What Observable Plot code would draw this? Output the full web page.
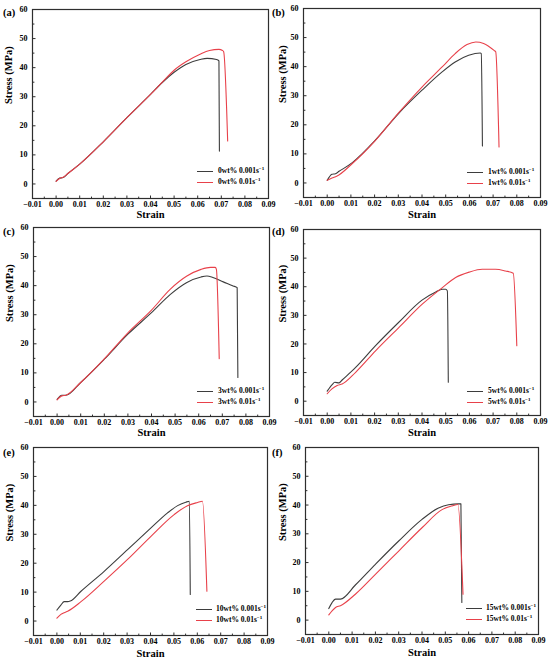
<!DOCTYPE html>
<html><head><meta charset="utf-8">
<script src="https://cdn.jsdelivr.net/npm/d3@7"></script>
<script src="https://cdn.jsdelivr.net/npm/@observablehq/plot@0.6"></script>
<style>
body{margin:0;background:#fff;}
#wrap{position:relative;width:550px;height:666px;overflow:hidden;font-family:"Liberation Serif","Times New Roman",serif;font-weight:bold;color:#000;}
.panel{position:absolute;width:275px;height:222px;}
.panel svg{position:absolute;left:0;top:0;}
.tag{position:absolute;font-size:10.5px;font-weight:bold;line-height:1;}
.leg{position:absolute;font-size:7.5px;white-space:nowrap;line-height:1;}
.leg sup{font-size:5px;vertical-align:3px;line-height:0;}
.ln{position:absolute;height:0;border-top:1.2px solid;}
</style></head><body><div id="wrap"></div>
<script>
// ---- data ----
const xTicks = [-0.01, 0, 0.01, 0.02, 0.03, 0.04, 0.05, 0.06, 0.07, 0.08, 0.09];
const yTicks = [0, 10, 20, 30, 40, 50, 60];
const panelTags = ["(a)", "(b)", "(c)", "(d)", "(e)", "(f)"];
const contents = ["0wt%", "1wt%", "3wt%", "5wt%", "10wt%", "15wt%"];
const rates = ["0.001", "0.01"];

const a_slow = [[0,1.0],[0.0015,2.0],[0.003,2.2],[0.005,3.6],[0.01,6.8],[0.02,14.5],[0.03,22.8],[0.04,30.8],[0.045,34.9],[0.05,38.4],[0.055,41.1],[0.061,42.8],[0.064,43.2],[0.068,42.8],[0.069,42.3],[0.0692,11.3]];
const a_fast = [[0,0.9],[0.0015,1.9],[0.003,2.3],[0.005,3.6],[0.01,6.8],[0.02,14.5],[0.03,22.8],[0.04,30.8],[0.045,35.0],[0.05,39.1],[0.055,42.0],[0.061,44.6],[0.065,45.9],[0.069,46.3],[0.0705,45.9],[0.071,45.5],[0.0727,14.8]];
const b_slow = [[0,0.9],[0.002,3.0],[0.0035,3.2],[0.005,4.0],[0.0106,7.0],[0.0203,14.7],[0.03,23.8],[0.04,31.9],[0.0485,38.2],[0.054,41.6],[0.0597,43.9],[0.0646,44.7],[0.065,44.5],[0.0655,12.7]];
const b_fast = [[0,0.9],[0.002,1.7],[0.004,2.3],[0.0106,6.7],[0.0203,14.6],[0.03,24.0],[0.04,33.0],[0.0485,39.9],[0.054,44.5],[0.059,47.6],[0.0627,48.5],[0.066,48.0],[0.0704,45.6],[0.0711,45.1],[0.0725,12.4]];
const c_slow = [[0,0.9],[0.002,2.3],[0.0037,2.3],[0.01,6.7],[0.02,14.7],[0.03,23.3],[0.04,30.7],[0.048,37.0],[0.055,41.1],[0.061,43.0],[0.0635,43.3],[0.066,42.8],[0.0704,41.3],[0.0746,39.9],[0.0763,39.3],[0.0766,8.4]];
const c_fast = [[0,0.7],[0.002,2.1],[0.0037,2.3],[0.01,6.7],[0.02,14.8],[0.03,23.8],[0.04,31.6],[0.048,38.8],[0.055,43.3],[0.061,45.6],[0.065,46.3],[0.067,46.3],[0.0675,45.6],[0.0687,14.9]];
const d_slow = [[0,3.5],[0.0021,5.8],[0.0032,6.6],[0.005,6.4],[0.0063,7.4],[0.012,11.8],[0.0204,19.4],[0.0301,27.5],[0.04,35.3],[0.0458,38.2],[0.0486,39.1],[0.05,39.1],[0.0507,38.5],[0.0511,6.6]];
const d_fast = [[0,2.6],[0.002,4.3],[0.0042,5.5],[0.0063,6.0],[0.012,10.1],[0.0204,17.6],[0.0303,25.8],[0.0401,33.9],[0.0486,39.7],[0.0542,43.2],[0.0599,45.1],[0.0654,46.1],[0.071,46.1],[0.0752,45.5],[0.0785,44.7],[0.08,19.4]];
const e_slow = [[0,3.8],[0.0017,5.5],[0.0031,6.7],[0.0046,6.7],[0.0057,6.9],[0.0103,10.3],[0.0202,17.2],[0.0302,24.7],[0.0402,32.2],[0.0473,37.4],[0.0516,39.9],[0.0551,41.1],[0.0566,41.4],[0.057,9.2]];
const e_fast = [[0,1.0],[0.0017,2.3],[0.0031,2.9],[0.0046,3.4],[0.0103,6.7],[0.0202,13.8],[0.0302,21.3],[0.0402,29.3],[0.0501,36.8],[0.0558,39.9],[0.0601,41.0],[0.0622,41.4],[0.0641,10.3]];
const f_slow = [[0,4.0],[0.0014,6.1],[0.0029,7.3],[0.005,7.3],[0.0114,12.2],[0.02,19.4],[0.03,27.5],[0.04,35.0],[0.0471,39.0],[0.0514,40.1],[0.0557,40.4],[0.0567,40.4],[0.0571,6.1]];
const f_fast = [[0,1.8],[0.0014,3.2],[0.0029,4.4],[0.005,5.0],[0.0114,9.0],[0.02,15.9],[0.03,24.0],[0.04,32.1],[0.0486,38.4],[0.0529,39.7],[0.0554,40.2],[0.0576,9.0]];

const seriesSlow = [a_slow, b_slow, c_slow, d_slow, e_slow, f_slow];
const seriesFast = [a_fast, b_fast, c_fast, d_fast, e_fast, f_fast];

// ---- layout ----
const colors = ["#3d3d3d", "#e8414a"];
const layout = [
  {left:0,   top:0,   m:[9,7,24,32],   xl:19, yl:-24, tag:[3,8],   leg:[197,171,218]},
  {left:275, top:0,   m:[8,10,25,28],  xl:20, yl:-21, tag:[-3,8],  leg:[192,172,213]},
  {left:0,   top:222, m:[5,6,28,33],   xl:19, yl:-24, tag:[3,5],   leg:[197,169,218]},
  {left:275, top:222, m:[7,10,29,28],  xl:20, yl:-21, tag:[-3,5],  leg:[192,169,213]},
  {left:0,   top:444, m:[3,8,31,33],   xl:21, yl:-24, tag:[3,4],   leg:[196,165,216]},
  {left:275, top:444, m:[3,12,32,30],  xl:21, yl:-23, tag:[-3,4],  leg:[191,164,211]}
];

const xMinor = xTicks.slice(0, -1).map(d => d + 0.005);
const yMinor = yTicks.slice(0, -1).map(d => d + 5);
const tickShape = {draw(ctx, l) { ctx.moveTo(0, 0); ctx.lineTo(0, -l); }};
const fmtX = d3.format(".2f");
const axisColor = "#2e2e2e";

const wrap = document.getElementById("wrap");
layout.forEach((L, i) => {
  const div = document.createElement("div");
  div.className = "panel";
  div.style.left = L.left + "px";
  div.style.top = L.top + "px";
  wrap.appendChild(div);

  const rows = [
    ...seriesSlow[i].map(([x, y]) => ({x, y, s: rates[0]})),
    ...seriesFast[i].map(([x, y]) => ({x, y, s: rates[1]}))
  ];

  const chart = Plot.plot({
    width: 275, height: 222,
    marginTop: L.m[0], marginRight: L.m[1], marginBottom: L.m[2], marginLeft: L.m[3],
    style: {fontFamily: '"Liberation Serif","Times New Roman",serif', fontWeight: "bold", fontSize: "8px", color: "#000", background: "transparent", overflow: "visible"},
    x: {domain: [-0.01, 0.09]},
    y: {domain: [-5, 60]},
    marks: [
      Plot.line(rows.filter(d => d.s === rates[0]), {x: "x", y: "y", stroke: colors[0], strokeWidth: 1.1, curve: "monotone-x"}),
      Plot.line(rows.filter(d => d.s === rates[1]), {x: "x", y: "y", stroke: colors[1], strokeWidth: 1.1, curve: "monotone-x"}),
      Plot.frame({stroke: axisColor, strokeWidth: 1.2}),
      Plot.vector(xTicks, {x: d => d, frameAnchor: "bottom", length: 2.6, rotate: 0, anchor: "start", shape: tickShape, stroke: axisColor, strokeWidth: 1}),
      Plot.vector(xMinor, {x: d => d, frameAnchor: "bottom", length: 1.5, rotate: 0, anchor: "start", shape: tickShape, stroke: axisColor, strokeWidth: 1}),
      Plot.vector(yTicks, {y: d => d, frameAnchor: "left", length: 2.6, rotate: 90, anchor: "start", shape: tickShape, stroke: axisColor, strokeWidth: 1}),
      Plot.vector(yMinor, {y: d => d, frameAnchor: "left", length: 1.5, rotate: 90, anchor: "start", shape: tickShape, stroke: axisColor, strokeWidth: 1}),
      Plot.axisX(xTicks, {tickSize: 0, tickPadding: 3, tickFormat: fmtX, label: null, fontSize: 8, fontWeight: "bold", fill: "#000"}),
      Plot.axisY(yTicks, {tickSize: 0, tickPadding: 5, tickFormat: d3.format("d"), label: null, fontSize: 8, fontWeight: "bold", fill: "#000"}),
      Plot.text(["Strain"], {frameAnchor: "bottom", dy: L.xl, text: d => d, fontSize: 10.5, fontWeight: "bold", fill: "#000"}),
      Plot.text(["Stress (MPa)"], {frameAnchor: "left", dx: L.yl, rotate: -90, text: d => d, fontSize: 10.5, fontWeight: "bold", fill: "#000"})
    ]
  });
  div.appendChild(chart);

  const tag = document.createElement("div");
  tag.className = "tag";
  tag.style.left = L.tag[0] + "px";
  tag.style.top = L.tag[1] + "px";
  tag.textContent = panelTags[i];
  div.appendChild(tag);

  rates.forEach((r, k) => {
    const y = L.leg[1] + k * 10.5;
    const ln = document.createElement("div");
    ln.className = "ln";
    ln.style.left = L.leg[0] + "px";
    ln.style.top = y + "px";
    ln.style.width = "16px";
    ln.style.borderTopColor = colors[k];
    div.appendChild(ln);
    const t = document.createElement("div");
    t.className = "leg";
    t.style.left = L.leg[2] + "px";
    t.style.top = (y - 4) + "px";
    t.innerHTML = contents[i] + " " + r + "s<sup>\u22121</sup>";
    div.appendChild(t);
  });
});
</script></body></html>
